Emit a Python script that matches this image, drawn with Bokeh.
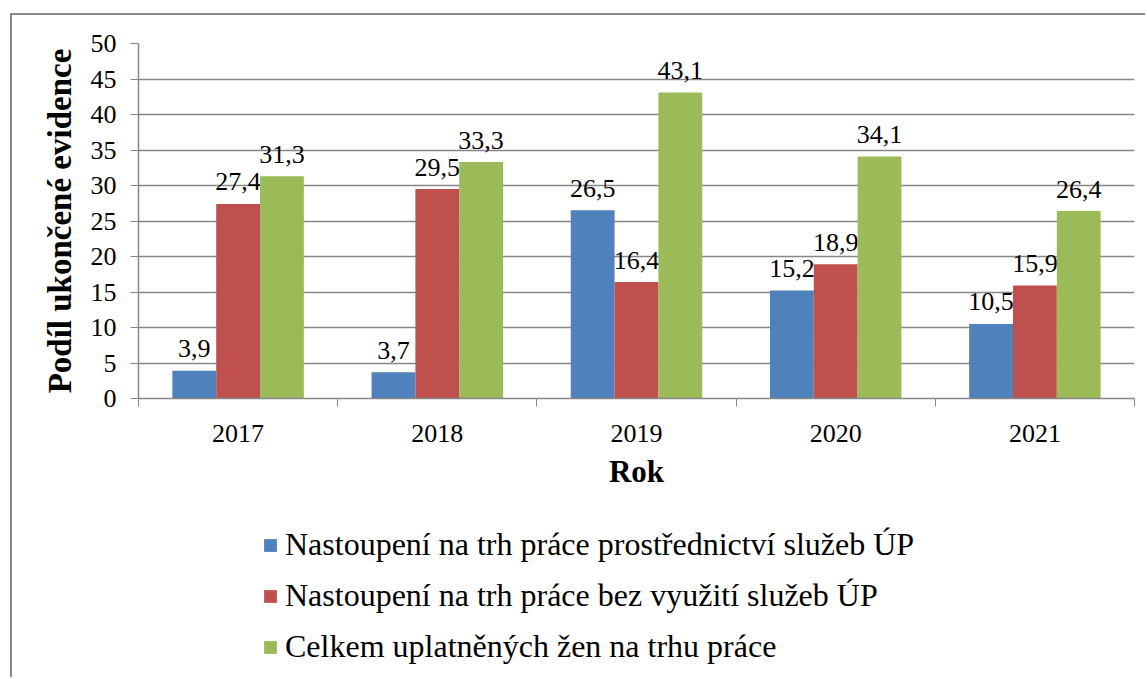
from bokeh.plotting import figure
from bokeh.layouts import column
from bokeh.models import Range1d, FixedTicker, Legend, LegendItem, ColumnDataSource
from bokeh.core.properties import value
from bokeh.embed import file_html
from bokeh.resources import INLINE

years = ["2017", "2018", "2019", "2020", "2021"]
via_up = [3.9, 3.7, 26.5, 15.2, 10.5]
without_up = [27.4, 29.5, 16.4, 18.9, 15.9]
total = [31.3, 33.3, 43.1, 34.1, 26.4]
series_names = [
    "Nastoupení na trh práce prostřednictví služeb ÚP",
    "Nastoupení na trh práce bez využití služeb ÚP",
    "Celkem uplatněných žen na trhu práce",
]
colors = ["#4F81BD", "#C0504D", "#9BBB59"]
y_ticks = list(range(0, 51, 5))

FONT = "Liberation Serif"
GRID = "#878787"

p = figure(width=1133, height=485,
           x_range=Range1d(0, len(years)), y_range=Range1d(0, 50),
           output_backend="svg", toolbar_location=None,
           min_border_left=126, min_border_top=28, min_border_right=11, min_border_bottom=102)
p.outline_line_color = None
p.background_fill_color = "white"
p.border_fill_color = "white"

centers = [i + 0.5 for i in range(len(years))]
bar_w = 0.22
offsets = [-bar_w, 0.0, bar_w]
series = [via_up, without_up, total]

sources = []
for vals, col, off in zip(series, colors, offsets):
    xs = [c + off for c in centers]
    src = ColumnDataSource(dict(x=xs, top=vals, lab=[f"{v:.1f}".replace(".", ",") for v in vals]))
    sources.append(src)
    p.vbar(x="x", top="top", width=bar_w, source=src, fill_color=col, line_color=None)
    p.text(x="x", y="top", text="lab", source=src, text_align="center",
           text_baseline="alphabetic", y_offset=-22, text_font=value(FONT),
           text_font_size="26px", text_color="black")

# x axis
xa = p.xaxis[0]
xa.ticker = FixedTicker(ticks=centers, minor_ticks=list(range(len(years) + 1)))
xa.major_label_overrides = {c: y for c, y in zip(centers, years)}
xa.major_tick_out = 0
xa.major_tick_in = 0
xa.minor_tick_out = 8
xa.minor_tick_in = 0
xa.minor_tick_line_color = GRID
xa.axis_line_color = GRID
xa.axis_line_width = 1.5
xa.major_label_text_font = FONT
xa.major_label_text_font_size = "26px"
xa.major_label_text_color = "black"
xa.major_label_standoff = 18
xa.axis_label = "Rok"
xa.axis_label_text_font = FONT
xa.axis_label_text_font_size = "31px"
xa.axis_label_text_font_style = "bold"
xa.axis_label_text_color = "black"
xa.axis_label_standoff = 9

# y axis
ya = p.yaxis[0]
ya.ticker = FixedTicker(ticks=y_ticks, minor_ticks=[])
ya.major_tick_out = 8
ya.major_tick_in = 0
ya.major_tick_line_color = GRID
ya.axis_line_color = GRID
ya.axis_line_width = 1.5
ya.major_label_text_font = FONT
ya.major_label_text_font_size = "26px"
ya.major_label_text_color = "black"
ya.major_label_standoff = 14
ya.axis_label = "Podíl ukončené evidence"
ya.axis_label_text_font = FONT
ya.axis_label_text_font_size = "33px"
ya.axis_label_text_font_style = "bold"
ya.axis_label_text_color = "black"
ya.axis_label_standoff = 10

p.xgrid.grid_line_color = None
p.ygrid.ticker = FixedTicker(ticks=y_ticks)
p.ygrid.grid_line_color = GRID
p.ygrid.grid_line_width = 1.5

# legend panel (its renderers are hidden; only the legend shows)
p2 = figure(width=1133, height=177, x_range=Range1d(0, len(years)), y_range=Range1d(0, 50),
            output_backend="svg", toolbar_location=None,
            x_axis_location=None, y_axis_location=None,
            min_border_left=0, min_border_right=0, min_border_top=0, min_border_bottom=0)
p2.outline_line_color = None
p2.xgrid.grid_line_color = None
p2.ygrid.grid_line_color = None
items = []
for name, col, src in zip(series_names, colors, sources):
    r = p2.vbar(x="x", top="top", width=bar_w, source=src, fill_color=col, line_color=None)
    r.visible = False
    items.append(LegendItem(label=name, renderers=[r]))

legend = Legend(items=items, location=(124, 12), orientation="vertical",
                glyph_width=16, glyph_height=16, label_standoff=7,
                label_text_font=FONT, label_text_font_size="32px",
                label_text_color="black", label_height=36, spacing=14,
                padding=0, margin=0, border_line_color=None,
                background_fill_alpha=0)
p2.add_layout(legend, "center")

layout = column(p, p2, spacing=0,
                styles={"border-left": "2px solid #898989", "border-top": "2px solid #898989",
                        "margin-left": "10px", "margin-top": "13px"})

open("out.html", "w").write(file_html(layout, INLINE))
